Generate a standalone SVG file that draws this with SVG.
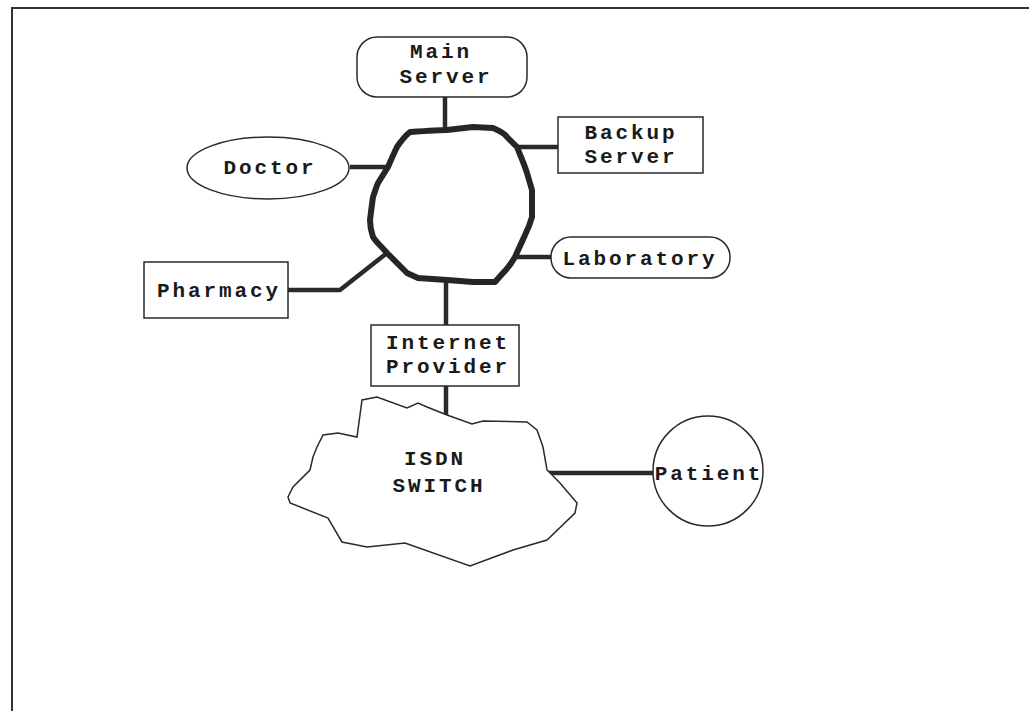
<svg xmlns="http://www.w3.org/2000/svg" width="1029" height="711" viewBox="0 0 1029 711">
  <style>
    .shape { fill: #ffffff; stroke: #2a2a2a; stroke-width: 1.5; }
    .label { font-family: "Liberation Mono", "Courier New", monospace; font-size: 21px; font-weight: bold; letter-spacing: 2.9px; fill: #1a1a1a; text-anchor: middle; }
    .conn { fill: none; stroke: #2a2a2a; stroke-width: 4.5; stroke-linejoin: round; }
    .ring { fill: none; stroke: #262626; stroke-width: 6; stroke-linejoin: round; }
  </style>
  <rect width="1029" height="711" fill="#ffffff"/>
  <g id="frame">
    <path d="M12,711 L12,8 L1029,8" fill="none" stroke="#333" stroke-width="2"/>
  </g>
  <g id="connectors">
    <line class="conn" x1="445" y1="97" x2="445" y2="131"/>
    <line class="conn" x1="350" y1="167" x2="389" y2="167"/>
    <line class="conn" x1="516" y1="147" x2="558" y2="147"/>
    <line class="conn" x1="515" y1="257" x2="552" y2="257"/>
    <polyline class="conn" points="288,290 340,290 387,253"/>
    <line class="conn" x1="446" y1="280" x2="446" y2="325"/>
    <line class="conn" x1="446" y1="386" x2="446" y2="415"/>
    <line class="conn" x1="547" y1="473" x2="653" y2="473"/>
  </g>
  <g id="network">
    <path class="ring" d="M410,132 C425,131 440,130 447,130 L473,127 L493,128 C500,131 505,134 507,137 L517,147 C521,157 525,166 527,173 L532,190 L532,217 C530,224 528,229 525,235 L515,257 C511,264 507,269 503,273 L495,282 L473,282 L447,280 L418,278 L407,273 L387,253 C382,247 376,242 373,237 C371,231 370,225 370,220 C371,212 372,204 373,197 C375,192 376,187 378,183 L388,167 C391,160 394,153 397,147 C401,141 405,136 410,132 Z"/>
  </g>
  <g id="main-server">
    <rect class="shape" x="357" y="37" width="170" height="60" rx="20" ry="20"/>
    <text class="label" x="441" y="58">Main</text>
    <text class="label" x="446" y="83">Server</text>
  </g>
  <g id="backup-server">
    <rect class="shape" x="558" y="117" width="145" height="56"/>
    <text class="label" x="631" y="139">Backup</text>
    <text class="label" x="631" y="163">Server</text>
  </g>
  <g id="doctor">
    <ellipse class="shape" cx="268" cy="168" rx="81" ry="31"/>
    <text class="label" x="270" y="174">Doctor</text>
  </g>
  <g id="laboratory">
    <rect class="shape" x="551" y="237" width="179" height="41" rx="20" ry="20"/>
    <text class="label" x="640" y="265">Laboratory</text>
  </g>
  <g id="pharmacy">
    <rect class="shape" x="144" y="262" width="144" height="56"/>
    <text class="label" x="219" y="297">Pharmacy</text>
  </g>
  <g id="internet-provider">
    <rect class="shape" x="371" y="325" width="148" height="61"/>
    <text class="label" x="448" y="349">Internet</text>
    <text class="label" x="448" y="373">Provider</text>
  </g>
  <g id="isdn-switch">
    <path class="shape" d="M447,415 L472,424 L483,421 L527,422 L537,430 L543,447 L547,470 L560,483 L577,503 L575,513 L547,540 L513,550 L470,566 L405,543 L367,547 L342,542 L328,518 L290,503 L288,497 L293,487 L310,470 L313,457 L317,447 L323,435 L338,433 L357,437 L362,400 L377,397 L407,408 L418,403 L427,407 Z"/>
    <text class="label" x="435" y="465">ISDN</text>
    <text class="label" x="439" y="492">SWITCH</text>
  </g>
  <g id="patient">
    <circle class="shape" cx="708" cy="471" r="55"/>
    <text class="label" x="709" y="480">Patient</text>
  </g>
</svg>
